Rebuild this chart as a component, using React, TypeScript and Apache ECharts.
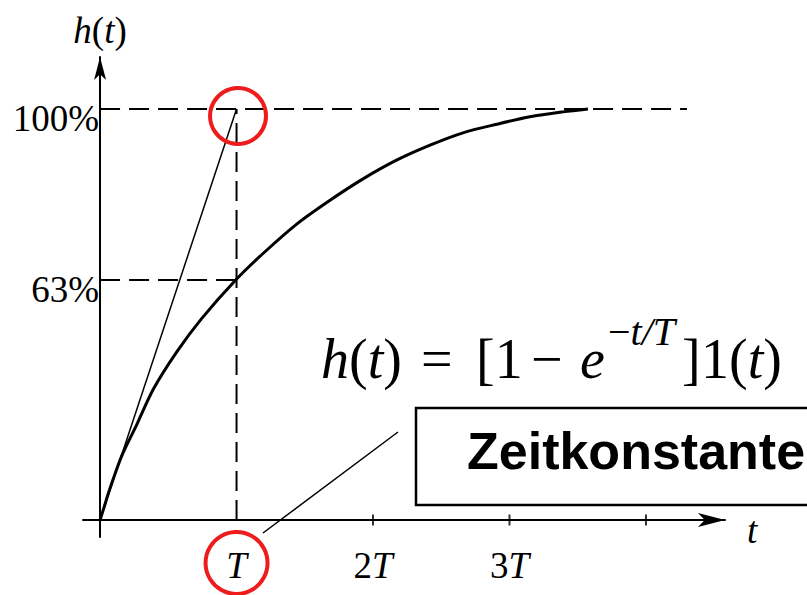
import { useEffect, useRef } from 'react';
import * as echarts from 'echarts';

// Step response h(t): time in units of T, height in % of the final value
const stepTimes = [0, 0.02, 0.073, 0.159, 0.269, 0.39, 0.562, 0.744, 0.994, 1.196, 1.441, 1.685, 1.927, 2.176, 2.418, 2.659, 2.908, 3.15, 3.392, 3.575];
const stepValues = [0, 2.1, 7.7, 15.6, 23.2, 31.8, 40.9, 49.0, 58.4, 64.9, 72.0, 77.8, 83.0, 87.6, 91.2, 94.2, 96.3, 98.1, 99.3, 100];

// Initial tangent, reaching the final value after one time constant
const tangentTimes = [0, 1];
const tangentValues = [0, 100];

// Dashed guide levels with their labels and the time where each guide stops
const levelValues = [58.4, 100];
const levelLabels = ['63%', '100%'];
const levelEnds = [1, 4.3];

// Time axis marks
const timeMarks = [1, 2, 3];
const timeMarkLabels = ['T', '2T', '3T'];
const tickTimes = [2, 3, 4];

const SERIF = 'Liberation Serif';
const INK = '#000';
const RED = '#ee1c1c';

const labelRich = {
  i: { fontFamily: SERIF, fontStyle: 'italic', fontSize: 37, lineHeight: 37, color: INK },
  r: { fontFamily: SERIF, fontStyle: 'normal', fontSize: 37, lineHeight: 37, color: INK },
};

// y labels sit a little below their guide line
const levelRich = {
  r: { fontFamily: SERIF, fontStyle: 'normal', fontSize: 37, lineHeight: 20, color: INK },
};

function markLabel(s: string) {
  const m = /^(\d*)(T)$/.exec(s);
  if (!m) return `{r|${s}}`;
  return (m[1] ? `{r|${m[1]}}` : '') + `{i|${m[2]}}`;
}

function nearestIndex(list: number[], v: number) {
  let best = 0;
  list.forEach((x, i) => {
    if (Math.abs(x - v) < Math.abs(list[best] - v)) best = i;
  });
  return best;
}

const dash = { color: INK, width: 2, type: [20, 9] as number[] };

export default function App() {
  const ref = useRef<HTMLDivElement>(null);

  useEffect(() => {
    if (!ref.current) return;
    const chart = echarts.init(ref.current, null, { renderer: 'svg' });

    const guideSeries: any[] = [
      {
        type: 'line',
        data: [[timeMarks[0], 0], [timeMarks[0], levelValues[1]]],
        showSymbol: false,
        lineStyle: dash,
        silent: true,
        z: 2,
      },
      ...levelValues.map((lv, i) => ({
        type: 'line',
        data: [[0, lv], [levelEnds[i], lv]],
        showSymbol: false,
        lineStyle: dash,
        silent: true,
        z: 2,
      })),
    ];

    chart.setOption({
      animation: false,
      backgroundColor: '#fff',
      grid: { left: 83, right: 82, top: 57, bottom: 58, outerBoundsMode: 'none', containLabel: false },
      xAxis: {
        type: 'value',
        min: -0.125,
        max: 4.579,
        axisLine: {
          onZero: true,
          symbol: ['none', 'arrow'],
          symbolSize: [10.5, 27],
          lineStyle: { color: INK, width: 2 },
        },
        axisTick: { show: false },
        splitLine: { show: false },
        axisLabel: {
          customValues: timeMarks,
          margin: 10,
          formatter: (v: number) => markLabel(timeMarkLabels[nearestIndex(timeMarks, v)]),
          rich: labelRich,
        },
        name: '{i|t}',
        nameLocation: 'end',
        nameGap: 22,
        nameTextStyle: { rich: labelRich, padding: [21, 0, 0, 0] },
      },
      yAxis: {
        type: 'value',
        min: -4.14,
        max: 112.65,
        axisLine: {
          onZero: true,
          symbol: ['none', 'arrow'],
          symbolSize: [9, 23],
          lineStyle: { color: INK, width: 2 },
        },
        axisTick: { show: false },
        splitLine: { show: false },
        axisLabel: {
          customValues: levelValues,
          margin: -16,
          verticalAlign: 'top',
          formatter: (v: number) => `{r|${levelLabels[nearestIndex(levelValues, v)]}}`,
          rich: levelRich,
        },
        name: '{i|h}{r|(}{i|t}{r|)}',
        nameLocation: 'end',
        nameGap: 8,
        nameTextStyle: { rich: labelRich },
      },
      series: [
        ...guideSeries,
        {
          type: 'line',
          data: tangentTimes.map((t, i) => [t, tangentValues[i]]),
          showSymbol: false,
          lineStyle: { color: INK, width: 1.5 },
          silent: true,
          z: 3,
        },
        {
          type: 'line',
          data: stepTimes.map((t, i) => [t, stepValues[i]]),
          showSymbol: false,
          smooth: 0.3,
          lineStyle: { color: INK, width: 3 },
          silent: true,
          z: 4,
        },
        {
          type: 'scatter',
          data: tickTimes.map((t) => [t, 0]),
          symbol: 'rect',
          symbolSize: [2, 11],
          itemStyle: { color: INK },
          silent: true,
          z: 5,
        },
      ],
    });

    // Highlight rings around the tangent's end point and the time-constant label
    const top = chart.convertToPixel({ gridIndex: 0 }, [timeMarks[0], levelValues[1]]) as number[];
    const base = chart.convertToPixel({ gridIndex: 0 }, [timeMarks[0], 0]) as number[];

    const fSize = 56;
    const formulaY = 359;
    const fi = { fontFamily: SERIF, fontStyle: 'italic', fontSize: fSize, fill: INK };
    const fr = { fontFamily: SERIF, fontStyle: 'normal', fontSize: fSize, fill: INK };
    const formulaText = (x: number, text: string) => ({
      type: 'text',
      x,
      y: formulaY,
      style: { text, rich: { i: fi, r: fr }, align: 'left', verticalAlign: 'middle' },
      z: 50,
    });

    chart.setOption({
      graphic: [
        {
          type: 'circle',
          shape: { cx: top[0] + 1.5, cy: top[1] + 7, r: 28 },
          style: { fill: 'none', stroke: RED, lineWidth: 4 },
          z: 100,
        },
        {
          type: 'circle',
          shape: { cx: base[0], cy: base[1] + 43, r: 31 },
          style: { fill: 'none', stroke: RED, lineWidth: 4 },
          z: 100,
        },
        // h(t) = [1 − e^{−t/T}] 1(t)
        formulaText(321, '{i|h}{r|(}{i|t}{r|)}'),
        formulaText(421, '{r|=}'),
        formulaText(476, '{r|[1}'),
        formulaText(531, '{r|\u2212}'),
        formulaText(580, '{i|e}'),
        {
          type: 'text',
          x: 608,
          y: 331,
          style: {
            text: '{r|\u2212}{i|t/T}',
            rich: {
              r: { fontFamily: SERIF, fontStyle: 'normal', fontSize: 40, fill: INK },
              i: { fontFamily: SERIF, fontStyle: 'italic', fontSize: 40, fill: INK },
            },
            align: 'left',
            verticalAlign: 'middle',
          },
          z: 50,
        },
        formulaText(682, '{r|]}'),
        formulaText(701, '{r|1(}{i|t}{r|)}'),
        {
          type: 'line',
          shape: { x1: 263, y1: 533, x2: 398, y2: 432 },
          style: { stroke: INK, lineWidth: 1.5 },
          z: 50,
        },
        {
          type: 'rect',
          shape: { x: 416, y: 408, width: 500, height: 97 },
          style: { fill: '#fff', stroke: INK, lineWidth: 2.5 },
          z: 60,
        },
        {
          type: 'text',
          x: 467,
          y: 451,
          style: {
            text: 'Zeitkonstante',
            fontFamily: 'Liberation Sans',
            fontWeight: 'bold',
            fontSize: 52,
            fill: INK,
            align: 'left',
            verticalAlign: 'middle',
          },
          z: 61,
        },
      ],
    });

    return () => chart.dispose();
  }, []);

  return (
    <div
      ref={ref}
      style={{ position: 'absolute', left: 0, top: 0, width: 807, height: 595 }}
    />
  );
}
